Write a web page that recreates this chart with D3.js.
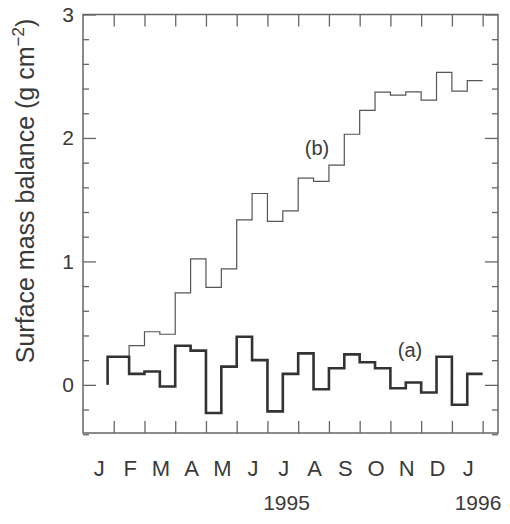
<!DOCTYPE html>
<html>
<head>
<meta charset="utf-8">
<script src="https://cdn.jsdelivr.net/npm/d3@7"></script>
<style>
  body { margin: 0; background: #fff; }
  text { font-family: "Liberation Sans", Arial, sans-serif; fill: #3a3a3a; }
</style>
</head>
<body>
<div id="chart"></div>
<script>
// month letters along the bottom (Jan 1995 .. Jan 1996)
const monthLabels = ["J", "F", "M", "A", "M", "J", "J", "A", "S", "O", "N", "D", "J"];
const yearLabels = ["1995", "1996"];
const yearPos = [6.62, 12.85];   // position on the month axis

// start of each half-month period (months since 1 Jan 1995), last value = end
const periodStart = [0.8, 1.5, 2, 2.5, 3, 3.5, 4, 4.5, 5, 5.5, 6, 6.5,
  7, 7.5, 8, 8.5, 9, 9.5, 10, 10.5, 11, 11.5, 12, 12.5];
const periodEnd = 13;

// (a) half-monthly surface mass balance
const seriesA = [0.228, 0.089, 0.108, -0.013, 0.317, 0.277, -0.228, 0.148, 0.39, 0.20,
  -0.215, 0.089, 0.255, -0.035, 0.134, 0.247, 0.183, 0.134, -0.027, 0.019,
  -0.062, 0.228, -0.161, 0.089];
// (b) accumulated balance
const seriesB = [0.228, 0.317, 0.43, 0.41, 0.745, 1.02, 0.79, 0.94, 1.336, 1.55,
  1.325, 1.41, 1.675, 1.648, 1.78, 2.03, 2.223, 2.371, 2.347, 2.374,
  2.306, 2.532, 2.379, 2.465];

const yMajor = [0, 1, 2, 3];

const svgWidth = 510;
const svgHeight = 524;
const frame = { left: 83, right: 498, top: 14.5, bottom: 433 };

const svg = d3.select("#chart")
  .append("svg")
  .attr("width", svgWidth)
  .attr("height", svgHeight);

const x = d3.scaleLinear().domain([0, 13.5]).range([frame.left, frame.right]);
const y = d3.scaleLinear().domain([-0.39, 3.0]).range([frame.bottom, frame.top]);

const axisColor = "#666";
const yMinor = d3.range(-2, 15).map(d => d / 5).filter(d => !yMajor.includes(d));
const monthTicks = d3.range(1, 14);

function styleAxis(g) {
  g.select(".domain").remove();
  g.selectAll("line").attr("stroke", axisColor).attr("stroke-width", 1.3);
  g.selectAll("text").remove();
}

// frame ticks, all pointing inward
svg.append("g").attr("transform", `translate(${frame.left},0)`)
  .call(d3.axisLeft(y).tickValues(yMajor).tickSize(-13)).call(styleAxis);
svg.append("g").attr("transform", `translate(${frame.left},0)`)
  .call(d3.axisLeft(y).tickValues(yMinor).tickSize(-6)).call(styleAxis);
svg.append("g").attr("transform", `translate(${frame.right},0)`)
  .call(d3.axisRight(y).tickValues(yMajor).tickSize(-13)).call(styleAxis);
svg.append("g").attr("transform", `translate(${frame.right},0)`)
  .call(d3.axisRight(y).tickValues(yMinor).tickSize(-6)).call(styleAxis);
svg.append("g").attr("transform", `translate(0,${frame.top})`)
  .call(d3.axisTop(x).tickValues(monthTicks).tickSize(-12)).call(styleAxis);
svg.append("g").attr("transform", `translate(0,${frame.bottom})`)
  .call(d3.axisBottom(x).tickValues(monthTicks).tickSize(-12)).call(styleAxis);

// frame
svg.append("rect")
  .attr("x", frame.left)
  .attr("y", frame.top)
  .attr("width", frame.right - frame.left)
  .attr("height", frame.bottom - frame.top)
  .attr("fill", "none")
  .attr("stroke", axisColor)
  .attr("stroke-width", 1.5);

// y tick labels
svg.selectAll(".ylab")
  .data(yMajor)
  .enter()
  .append("text")
  .attr("x", frame.left - 9)
  .attr("y", d => y(d) + 7.5)
  .attr("text-anchor", "end")
  .attr("font-size", "21px")
  .text(d => d);

// month labels centred in each month
svg.selectAll(".mlab")
  .data(monthLabels)
  .enter()
  .append("text")
  .attr("x", (d, i) => x(i + 0.5) + 1)
  .attr("y", 476)
  .attr("text-anchor", "middle")
  .attr("font-size", "22px")
  .text(d => d);

svg.selectAll(".yrlab")
  .data(yearLabels)
  .enter()
  .append("text")
  .attr("x", (d, i) => x(yearPos[i]))
  .attr("y", 510)
  .attr("text-anchor", "middle")
  .attr("font-size", "21px")
  .text(d => d);

// y axis title
const yTitle = svg.append("text")
  .attr("transform", "translate(34,191) rotate(-90)")
  .attr("text-anchor", "middle")
  .attr("font-size", "25px");
yTitle.append("tspan").text("Surface mass balance (g cm");
yTitle.append("tspan").attr("dy", -10).attr("font-size", "17px").text("\u22122");
yTitle.append("tspan").attr("dy", 10).text(")");

// step lines
function stepPoints(values) {
  const pts = [[periodStart[0], 0]];
  values.forEach((v, i) => pts.push([periodStart[i], v]));
  pts.push([periodEnd, values[values.length - 1]]);
  return pts;
}

const line = d3.line()
  .x(d => x(d[0]))
  .y(d => y(d[1]))
  .curve(d3.curveStepAfter);

svg.append("path")
  .attr("d", line(stepPoints(seriesB)))
  .attr("fill", "none")
  .attr("stroke", "#555")
  .attr("stroke-width", 1.2);

svg.append("path")
  .attr("d", line(stepPoints(seriesA)))
  .attr("fill", "none")
  .attr("stroke", "#333")
  .attr("stroke-width", 2.6);

// series labels
svg.append("text")
  .attr("x", 317).attr("y", 155)
  .attr("text-anchor", "middle")
  .attr("font-size", "20px")
  .text("(b)");
svg.append("text")
  .attr("x", 410).attr("y", 357)
  .attr("text-anchor", "middle")
  .attr("font-size", "20px")
  .text("(a)");
</script>
</body>
</html>
